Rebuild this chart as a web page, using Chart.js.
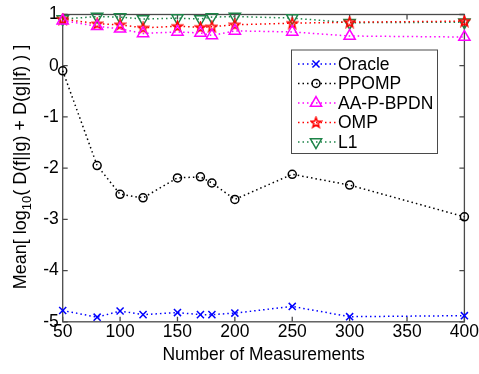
<!DOCTYPE html>
<html><head><meta charset="utf-8">
<script src="https://cdn.jsdelivr.net/npm/chart.js@4/dist/chart.umd.min.js"></script>
<style>html,body{margin:0;padding:0;background:#fff}</style>
</head><body>
<canvas id="c" width="479" height="374" style="width:479px;height:374px"></canvas>
<script>
// ---- data ----
const measurements = [50, 80, 100, 120, 150, 170, 180, 200, 250, 300, 400];
const oracle   = [-4.78, -4.91, -4.79, -4.86, -4.82, -4.86, -4.86, -4.83, -4.70, -4.90, -4.88];
const ppomp    = [-0.10, -1.95, -2.51, -2.58, -2.19, -2.17, -2.29, -2.61, -2.12, -2.33, -2.95];
const aapbpdn  = [0.88, 0.77, 0.72, 0.63, 0.66, 0.64, 0.59, 0.68, 0.66, 0.58, 0.56];
const omp      = [0.91, 0.82, 0.80, 0.74, 0.77, 0.75, 0.76, 0.80, 0.83, 0.85, 0.87];
const l1       = [0.91, 0.96, 0.95, 0.91, 0.93, 0.91, 0.95, 0.96, 0.93, 0.84, 0.85];
const seriesNames = ['Oracle', 'PPOMP', 'AA-P-BPDN', 'OMP', 'L1'];
const xTickValues = [50, 100, 150, 200, 250, 300, 350, 400];
const yTickValues = [-5, -4, -3, -2, -1, 0, 1];
const xTitle = 'Number of Measurements';
const yTitleParts = ['Mean[ log', '10', '( D(f||g) + D(g||f) ) ]'];

const FONT = '"Liberation Sans", Arial, Helvetica, sans-serif';
const FS = 17.5;

// pentagram marker for OMP
function makeStar(color){
  const c = document.createElement('canvas'); c.width = 13; c.height = 13;
  const g = c.getContext('2d');
  g.strokeStyle = color; g.fillStyle = color; g.lineWidth = 1.6;
  g.beginPath();
  const R = 5.3, r = 2.2, cx = 6.5, cy = 6.8;
  for (let i = 0; i < 10; i++){
    const ang = -Math.PI/2 + i*Math.PI/5;
    const rad = i % 2 === 0 ? R : r;
    const px = cx + rad*Math.cos(ang), py = cy + rad*Math.sin(ang);
    i === 0 ? g.moveTo(px, py) : g.lineTo(px, py);
  }
  g.closePath(); g.stroke();
  return c;
}
const starImg = makeStar('#ff0000');

const GREEN = '#1e8449';
const styles = [
  {color:'#0000ff', pointStyle:'crossRot', radius:5, rotation:0},
  {color:'#000000', pointStyle:'circle', radius:4, rotation:0},
  {color:'#ff00ff', pointStyle:'triangle', radius:6.5, rotation:0},
  {color:'#ff0000', pointStyle:starImg, radius:6, rotation:0},
  {color:GREEN, pointStyle:'triangle', radius:6.5, rotation:180},
];
const seriesData = [oracle, ppomp, aapbpdn, omp, l1];

const datasets = seriesNames.map((name, i) => ({
  label: name,
  data: measurements.map((m, j) => ({x: m, y: seriesData[i][j]})),
  borderColor: styles[i].color,
  backgroundColor: 'rgba(0,0,0,0)',
  borderWidth: 1.5,
  borderDash: [1.5, 3],
  pointStyle: styles[i].pointStyle,
  pointRadius: styles[i].radius,
  pointRotation: styles[i].rotation,
  pointBorderColor: styles[i].color,
  pointBackgroundColor: 'rgba(0,0,0,0)',
  pointBorderWidth: 1.5,
  tension: 0,
  clip: false,
}));

const boxPlugin = {
  id: 'matlabBox',
  beforeDatasetsDraw(chart){
    const {ctx, chartArea:a, scales:{x, y}} = chart;
    ctx.save();
    ctx.strokeStyle = '#4a4a4a'; ctx.lineWidth = 1.3;
    ctx.strokeRect(a.left, a.top, a.right - a.left, a.bottom - a.top);
    ctx.beginPath();
    const tl = 5;
    xTickValues.forEach(v => {
      const px = x.getPixelForValue(v);
      ctx.moveTo(px, a.bottom); ctx.lineTo(px, a.bottom - tl);
      ctx.moveTo(px, a.top); ctx.lineTo(px, a.top + tl);
    });
    yTickValues.forEach(v => {
      const py = y.getPixelForValue(v);
      ctx.moveTo(a.left, py); ctx.lineTo(a.left + tl, py);
      ctx.moveTo(a.right, py); ctx.lineTo(a.right - tl, py);
    });
    ctx.stroke();
    ctx.restore();
  },
  afterDraw(chart){
    const ctx = chart.ctx;
    ctx.save();
    // y title with subscript
    const big = '18px ' + FONT, small = '13px ' + FONT;
    ctx.font = big; const w1 = ctx.measureText(yTitleParts[0]).width;
    const w3 = ctx.measureText(yTitleParts[2]).width;
    ctx.font = small; const w2 = ctx.measureText(yTitleParts[1]).width;
    const total = w1 + w2 + w3;
    ctx.translate(21, 167);
    ctx.rotate(-Math.PI/2);
    ctx.fillStyle = '#000'; ctx.textBaseline = 'middle'; ctx.textAlign = 'left';
    let sx = -total/2;
    ctx.font = big; ctx.fillText(yTitleParts[0], sx, 0); sx += w1;
    ctx.font = small; ctx.fillText(yTitleParts[1], sx, 6); sx += w2;
    ctx.font = big; ctx.fillText(yTitleParts[2], sx, 0);
    ctx.restore();

    // legend
    ctx.save();
    const L = 291, T = 49.5, R = 437, B = 153;
    ctx.fillStyle = '#fff'; ctx.fillRect(L, T, R - L, B - T);
    ctx.strokeStyle = '#4a4a4a'; ctx.lineWidth = 1; ctx.strokeRect(L + 0.5, T + 0.5, R - L, B - T);
    const rowY = [64, 83.5, 103, 122.5, 142];
    seriesNames.forEach((name, i) => {
      const yy = rowY[i], st = styles[i];
      ctx.save();
      ctx.strokeStyle = st.color; ctx.lineWidth = 1.5; ctx.setLineDash([1.5, 3]);
      ctx.beginPath(); ctx.moveTo(298, yy); ctx.lineTo(337, yy); ctx.stroke();
      ctx.restore();
      ctx.save();
      ctx.strokeStyle = st.color; ctx.fillStyle = 'rgba(0,0,0,0)'; ctx.lineWidth = 1.5;
      if (Chart.helpers && Chart.helpers.drawPoint) {
        Chart.helpers.drawPoint(ctx, {pointStyle: st.pointStyle, radius: st.radius, rotation: st.rotation, borderWidth: 1.5}, 316, yy);
      }
      ctx.restore();
      ctx.fillStyle = '#000'; ctx.font = FS + 'px ' + FONT; ctx.textBaseline = 'middle'; ctx.textAlign = 'left';
      ctx.fillText(name, 338, yy + 1);
    });
    ctx.restore();
  }
};

new Chart(document.getElementById('c'), {
  type: 'line',
  data: { datasets },
  plugins: [boxPlugin],
  options: {
    responsive: false,
    animation: false,
    devicePixelRatio: 1,
    layout: { padding: { left: 0, top: 10.6, right: 14, bottom: 0 } },
    plugins: { legend: { display: false }, tooltip: { enabled: false } },
    scales: {
      x: {
        type: 'linear', min: 50, max: 400,
        afterBuildTicks: s => { s.ticks = xTickValues.map(v => ({value: v})); },
        afterFit: s => { s.height = 52.2; },
        grid: { display: false, drawTicks: false },
        border: { display: false },
        ticks: { color: '#000', font: { family: FONT, size: FS }, padding: 0, maxRotation: 0, autoSkip: false },
        title: { display: true, text: xTitle, color: '#000', font: { family: FONT, size: FS }, padding: { top: 0, bottom: 8 } }
      },
      y: {
        type: 'linear', min: -5, max: 1,
        afterBuildTicks: s => { s.ticks = yTickValues.map(v => ({value: v})); },
        afterFit: s => { s.width = 62.7; },
        grid: { display: false, drawTicks: false },
        border: { display: false },
        ticks: { color: '#000', font: { family: FONT, size: FS }, padding: 4 }
      }
    }
  }
});
</script>
</body></html>
